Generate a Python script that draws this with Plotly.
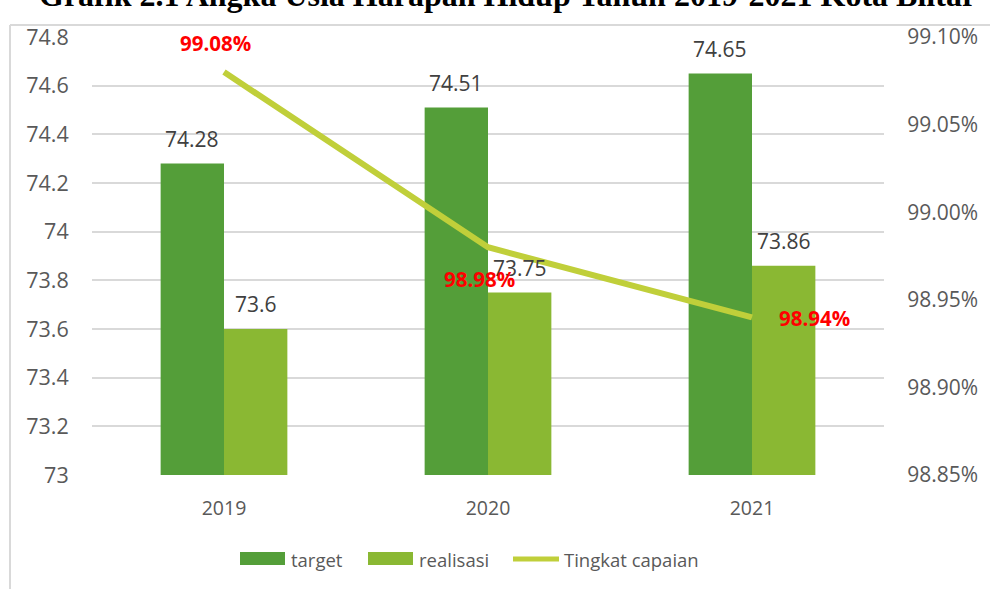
import plotly.graph_objects as go

years = ["2019", "2020", "2021"]
target = [74.28, 74.51, 74.65]
realisasi = [73.6, 73.75, 73.86]
capaian = [99.08, 98.98, 98.94]
capaian_labels = ["99.08%", "98.98%", "98.94%"]
left_ticks = [73, 73.2, 73.4, 73.6, 73.8, 74, 74.2, 74.4, 74.6, 74.8]
left_ticktext = ["73", "73.2", "73.4", "73.6", "73.8", "74", "74.2", "74.4", "74.6", "74.8"]
right_ticks = [98.85, 98.90, 98.95, 99.00, 99.05, 99.10]
right_ticktext = ["98.85%", "98.90%", "98.95%", "99.00%", "99.05%", "99.10%"]
title_text = "Grafik 2.1 Angka Usia Harapan Hidup Tahun 2019-2021 Kota Blitar"

C_TARGET = "#549E39"
C_REAL = "#8AB833"
C_LINE = "#C0CF3A"
TICK = "#595959"
LABEL = "#404040"
GRID = "#D9D9D9"
FONT = "Open Sans"

W, H = 990, 589
L, R, T, B = 92, 106, 37, 114
PW, PH = W - L - R, H - T - B

def px(x):
    return (x - L) / PW

def py(y):
    return 1 - (y - T) / PH

fig = go.Figure()
fig.add_trace(go.Bar(x=years, y=target, name="target", marker_color=C_TARGET,
                     marker_line_width=0, showlegend=False))
fig.add_trace(go.Bar(x=years, y=realisasi, name="realisasi", marker_color=C_REAL,
                     marker_line_width=0, showlegend=False))
fig.add_trace(go.Scatter(x=years, y=capaian, name="Tingkat capaian", yaxis="y2",
                         mode="lines", line=dict(color=C_LINE, width=6),
                         showlegend=False))

ann = []
for i, v in enumerate(target):
    ann.append(dict(x=i, y=v, xref="x", yref="y", text=str(v), showarrow=False,
                    xshift=-32, yshift=25, yanchor="middle",
                    font=dict(family=FONT, size=21, color=LABEL)))
for i, v in enumerate(realisasi):
    ann.append(dict(x=i, y=v, xref="x", yref="y", text=str(v), showarrow=False,
                    xshift=32, yshift=25, yanchor="middle",
                    font=dict(family=FONT, size=21, color=LABEL)))
shifts = [(-9, 29, "center"), (-9, -32, "center"), (25, -1, "left")]
for i, (v, t, (dx, dy, xa)) in enumerate(zip(capaian, capaian_labels, shifts)):
    ann.append(dict(x=i, y=v, xref="x", yref="y2", text="<b>" + t + "</b>",
                    showarrow=False, xshift=dx, yshift=dy, xanchor=xa, yanchor="middle",
                    font=dict(family=FONT, size=20.5, color="#FF0000")))

# title (partly cropped at top as in the reference)
ann.append(dict(x=px(507), y=py(-5), xref="paper", yref="paper", text="<b>" + title_text + "</b>",
                showarrow=False, xanchor="center", yanchor="middle",
                font=dict(family="Liberation Serif", size=32, color="#000000")))

# custom legend
shapes = [
    dict(type="rect", xref="paper", yref="paper", x0=px(240), x1=px(285), y0=py(565), y1=py(552),
         fillcolor=C_TARGET, line_width=0),
    dict(type="rect", xref="paper", yref="paper", x0=px(368), x1=px(413), y0=py(565), y1=py(552),
         fillcolor=C_REAL, line_width=0),
    dict(type="line", xref="paper", yref="paper", x0=px(513), x1=px(559), y0=py(559), y1=py(559),
         line=dict(color=C_LINE, width=5)),
    # chart border (partially visible)
    dict(type="line", xref="paper", yref="paper", x0=px(10), x1=px(1000), y0=py(25), y1=py(25),
         line=dict(color=GRID, width=2)),
    dict(type="line", xref="paper", yref="paper", x0=px(10), x1=px(10), y0=py(25), y1=py(600),
         line=dict(color=GRID, width=2)),
]
for x0, t in [(289, "target"), (417, "realisasi"), (562, "Tingkat capaian")]:
    ann.append(dict(x=px(x0), y=py(559), xref="paper", yref="paper", text=t, showarrow=False,
                    xanchor="left", yanchor="middle",
                    font=dict(family=FONT, size=18.5, color=TICK)))

fig.update_layout(
    width=W, height=H,
    margin=dict(l=L, r=R, t=T, b=B, autoexpand=False),
    paper_bgcolor="white", plot_bgcolor="white",
    barmode="group", bargap=0.52, bargroupgap=0,
    font=dict(family=FONT, size=20, color=TICK),
    xaxis=dict(type="category", range=[-0.5, 2.5], showgrid=False, ticks="outside", ticklen=16,
               tickcolor="rgba(0,0,0,0)",
               tickfont=dict(size=19.5, color=TICK), showline=False, zeroline=False),
    yaxis=dict(range=[73, 74.8], tickvals=left_ticks, ticktext=left_ticktext,
               showgrid=True, gridcolor=GRID, gridwidth=1.5, zeroline=False,
               ticks="outside", ticklen=18, tickcolor="rgba(0,0,0,0)",
               tickfont=dict(size=21.5, color=TICK)),
    yaxis2=dict(range=[98.85, 99.10], tickvals=right_ticks, ticktext=right_ticktext,
                overlaying="y", side="right", showgrid=False, zeroline=False,
                ticks="outside", ticklen=18, tickcolor="rgba(0,0,0,0)",
                tickfont=dict(size=21, color=TICK)),
    annotations=ann, shapes=shapes,
)

fig.write_html("out.html", config={"displayModeBar": False},
               post_script="document.body.style.margin='0';document.body.style.overflow='hidden';")
